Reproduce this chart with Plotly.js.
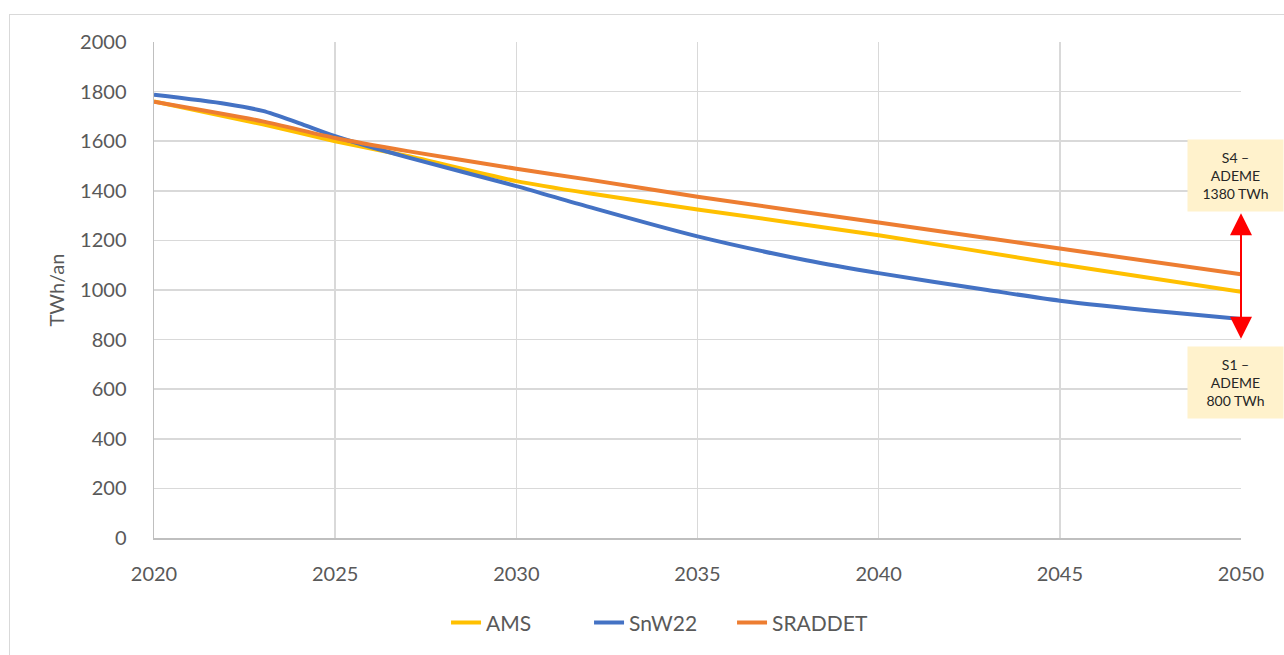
<!DOCTYPE html>
<html>
<head>
<meta charset="utf-8">
<script src="https://cdn.plot.ly/plotly-3.0.1.min.js"></script>
<style>
  html, body { margin: 0; padding: 0; background: #ffffff; }
  #chart { position: absolute; left: 0; top: 0; width: 1284px; height: 655px; }
  #frame { position: absolute; left: 9px; top: 14px; width: 1300px; height: 700px;
           border: 1px solid #d9d9d9; pointer-events: none; }
</style>
</head>
<body>
<div id="chart"></div>
<div id="frame"></div>
<script>
// Data (TWh/an)
const amsYears = [2020, 2023, 2025, 2027, 2030, 2032, 2035, 2040, 2045, 2050];
const amsValues = [1760, 1668, 1600, 1540, 1439, 1390, 1325, 1221, 1104, 993];

const snwYears = [2020, 2022, 2023, 2024, 2025, 2027, 2030, 2032, 2035, 2038, 2040, 2043, 2045, 2048, 2050];
const snwValues = [1787, 1750, 1722, 1673, 1620, 1535, 1419, 1335, 1216, 1120, 1068, 1000, 957, 910, 883];

const sraddetYears = [2020, 2023, 2025, 2027, 2030, 2032, 2035, 2040, 2045, 2050];
const sraddetValues = [1759, 1680, 1613, 1560, 1489, 1445, 1376, 1272, 1167, 1063];

const seriesNames = ["AMS", "SnW22", "SRADDET"];
const xTicks = [2020, 2025, 2030, 2035, 2040, 2045, 2050];
const yTicks = [0, 200, 400, 600, 800, 1000, 1200, 1400, 1600, 1800, 2000];

// Range annotation (ADEME scenarios)
const rangeYear = 2050;
const rangeLow = 803;
const rangeHigh = 1316;
const s4Label = "S4 –<br>ADEME<br>1380 TWh";
const s1Label = "S1 –<br>ADEME<br>800 TWh";
const s4LabelY = 1462;
const s1LabelY = 626;
const labelX = 2049.86;

const FONT = "Lato, 'Liberation Sans', Arial, sans-serif";
const GREY = "#595959";

const traces = [
  { x: amsYears, y: amsValues, name: seriesNames[0], type: "scatter", mode: "lines",
    line: { color: "#FFC000", width: 4, shape: "spline", smoothing: 0.6 } },
  { x: snwYears, y: snwValues, name: seriesNames[1], type: "scatter", mode: "lines",
    line: { color: "#4472C4", width: 4, shape: "spline", smoothing: 0.8 } },
  { x: sraddetYears, y: sraddetValues, name: seriesNames[2], type: "scatter", mode: "lines",
    line: { color: "#ED7D31", width: 4, shape: "spline", smoothing: 0.6 } }
];

const layout = {
  width: 1284, height: 655,
  margin: { l: 154, r: 43, t: 42, b: 115, pad: 0 },
  paper_bgcolor: "rgba(0,0,0,0)",
  plot_bgcolor: "#ffffff",
  font: { family: FONT, color: GREY, size: 20 },
  showlegend: true,
  legend: {
    orientation: "h", x: 0.466, xanchor: "center", y: -0.171, yanchor: "middle",
    font: { family: FONT, size: 21, color: GREY }, bgcolor: "rgba(0,0,0,0)",
    entrywidth: 98, entrywidthmode: "pixels", tracegroupgap: 0
  },
  xaxis: {
    range: [2020, 2050], tickvals: xTicks, ticktext: xTicks.map(String),
    showgrid: true, gridcolor: "#d9d9d9", gridwidth: 1.5,
    showline: true, linecolor: "#bfbfbf", linewidth: 1.5,
    zeroline: false, ticks: "", ticklabelstandoff: 17,
    tickfont: { family: FONT, size: 20, color: GREY }, fixedrange: true
  },
  yaxis: {
    range: [0, 2000], tickvals: yTicks,
    showgrid: true, gridcolor: "#d9d9d9", gridwidth: 1.5,
    showline: true, linecolor: "#bfbfbf", linewidth: 1.5,
    zeroline: false, ticks: "", ticklabelstandoff: 22,
    tickfont: { family: FONT, size: 20, color: GREY },
    title: { text: "TWh/an", font: { family: FONT, size: 20, color: GREY }, standoff: 10 },
    fixedrange: true
  },
  annotations: [
    { x: rangeYear, y: rangeLow, xref: "x", yref: "y", ax: rangeYear, ay: rangeHigh,
      axref: "x", ayref: "y", text: "", showarrow: true, arrowside: "end+start",
      arrowhead: 2, startarrowhead: 2, arrowsize: 2.2, startarrowsize: 2.2, arrowwidth: 2,
      arrowcolor: "#FF0000", standoff: 0, startstandoff: 0 },
    { x: labelX, y: s4LabelY, xref: "x", yref: "y", text: s4Label, showarrow: false,
      bgcolor: "#FFF2CC", width: 95, height: 71, borderpad: 0, align: "center",
      valign: "middle", font: { family: FONT, size: 14, color: "#262626" } },
    { x: labelX, y: s1LabelY, xref: "x", yref: "y", text: s1Label, showarrow: false,
      bgcolor: "#FFF2CC", width: 95, height: 71, borderpad: 0, align: "center",
      valign: "middle", font: { family: FONT, size: 14, color: "#262626" } }
  ]
};

Plotly.newPlot("chart", traces, layout, { displayModeBar: false, staticPlot: true });
</script>
</body>
</html>
